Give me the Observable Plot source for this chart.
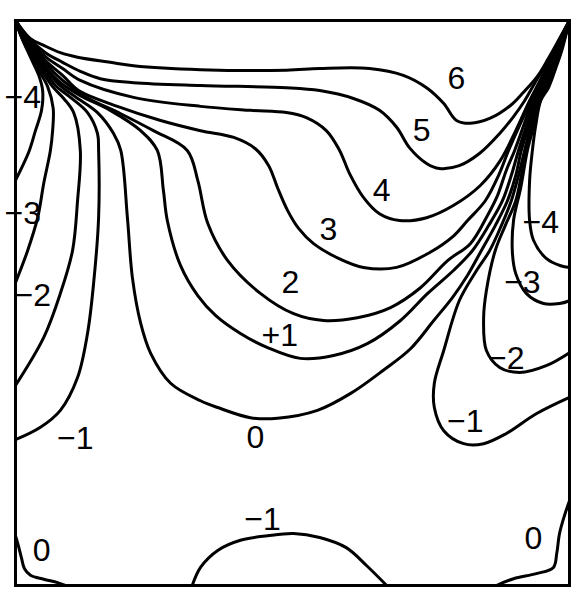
<!DOCTYPE html>
<html><head><meta charset="utf-8">
<script src="https://cdn.jsdelivr.net/npm/d3@7"></script>
<script src="https://cdn.jsdelivr.net/npm/@observablehq/plot@0.6"></script>
<style>body{margin:0;background:#fff}</style>
</head><body><div id="chart"></div>
<script>
// Contour lines, coordinates in % of cavity width (x) and height (y)
const lev6 = [[0,100],[2.7,96.8],[5.1,95.6],[8.1,94.3],[11.2,93.5],[17.1,92.6],[21.3,92.0],[33.4,91.3],[48.9,91.2],[54.9,91.5],[63.9,91.5],[70.0,90.3],[74.2,88.1],[77.3,85.3],[79.6,82.3],[82.1,81.8],[85.7,82.7],[89.4,85.0],[91.7,87.3],[94.2,90.1],[96.2,93.3],[98.2,96.8],[100,100]];
const lev5 = [[0,100],[2.5,96.8],[5.4,94.3],[8.5,92.6],[11.7,91.0],[15.3,89.7],[21.3,89.0],[33.4,88.5],[48.9,88.1],[54.9,87.6],[61.0,86.2],[65.7,84.1],[68.8,81.1],[71.1,77.5],[74.2,74.7],[76.5,73.8],[80.1,74.3],[83.8,76.5],[87.4,80.0],[89.9,83.0],[91.9,85.8],[94.2,89.7],[96.4,93.1],[98.2,96.6],[100,100]];
const lev4 = [[0,100],[2.3,96.8],[5.4,93.6],[8.5,91.5],[11.7,89.4],[21.3,86.4],[33.4,84.8],[42.4,84.1],[48.9,83.7],[52.5,82.8],[56.1,80.5],[58.5,77.0],[60.3,72.9],[62.8,68.7],[65.7,65.8],[69.3,64.6],[74.2,65.1],[79.1,67.3],[83.9,70.8],[87.5,75.2],[90.3,80.5],[92.8,85.8],[94.8,89.6],[96.4,92.9],[98.2,96.5],[100,100]];
const lev3 = [[0,100],[2.2,96.8],[5.4,92.9],[8.5,90.3],[11.4,87.6],[18.4,84.8],[26.2,82.3],[33.4,80.5],[39.4,79.3],[43.3,77.3],[45.7,74.3],[47.3,70.4],[49.1,66.4],[51.1,63.2],[53.8,60.5],[57.9,58.1],[62.8,56.3],[68.8,56.3],[74.7,58.9],[79.1,61.9],[81.6,64.6],[84.8,68.1],[87.2,72.6],[89.0,77.0],[91.2,81.9],[93.1,85.8],[94.9,89.4],[96.6,92.7],[98.2,96.3],[100,100]];
const lev2 = [[0,100],[2.2,96.6],[5.4,92.4],[8.5,89.4],[12.6,86.5],[19.0,83.5],[24.9,80.5],[31.0,77.0],[32.9,71.7],[34.7,64.1],[38.3,57.5],[44.2,51.7],[50.2,48.1],[55.6,46.9],[61.7,47.4],[67.7,49.2],[73.1,52.7],[78.0,57.5],[82.1,60.5],[85.2,65.5],[87.0,69.0],[88.6,73.5],[90.1,77.0],[91.9,81.9],[93.3,85.8],[95.1,89.2],[96.8,92.6],[98.4,96.1],[100,100]];
const lev1 = [[0,100],[2.0,96.6],[5.2,92.0],[8.1,89.0],[11.7,86.7],[17.1,84.1],[22.6,80.5],[25.6,77.0],[26.7,69.9],[27.4,64.6],[29.8,56.6],[32.9,51.3],[36.1,47.8],[40.6,44.6],[45.5,42.1],[51.4,40.2],[57.4,40.7],[63.5,42.8],[69.5,46.9],[74.4,51.7],[79.1,55.8],[82.5,59.3],[85.4,63.7],[87.9,68.1],[89.5,72.6],[90.8,77.0],[92.4,81.9],[93.7,85.8],[95.3,89.0],[96.8,92.4],[98.4,95.9],[100,100]];
const lev0 = [[0,100],[1.8,96.6],[5.1,91.9],[7.8,88.7],[10.8,86.5],[14.8,83.7],[17.7,80.0],[19.0,77.0],[20.2,65.1],[21.1,54.5],[22.6,46.4],[24.4,41.1],[28.0,35.8],[33.4,32.7],[36.5,31.5],[42.4,29.7],[47.3,29.6],[54.5,31.0],[60.5,34.0],[66.4,38.1],[71.3,41.9],[75.5,46.9],[78.9,51.0],[81.6,54.9],[84.1,59.3],[86.6,63.7],[88.8,68.1],[90.3,72.6],[91.3,77.0],[92.8,81.9],[93.9,85.8],[95.5,88.8],[96.9,92.2],[98.4,95.8],[100,100]];
const levM1Left = [[0,100],[1.6,96.6],[4.9,91.7],[7.2,88.5],[9.9,86.4],[13.0,83.7],[14.8,80.0],[15.0,77.0],[15.0,65.1],[14.1,53.5],[13.0,44.6],[11.2,36.8],[8.1,31.0],[4.5,28.0],[0,25.8]];
const levM2Left = [[0,100],[1.4,96.6],[4.5,91.5],[6.7,88.3],[8.7,86.2],[10.5,83.7],[11.7,77.0],[11.2,68.1],[10.3,59.3],[8.1,51.7],[5.1,43.9],[0,35.4]];
const levM3Left = [[0,100],[1.3,96.6],[4.0,91.5],[5.8,88.3],[6.8,84.5],[6.7,80.5],[6.3,77.0],[5.1,71.2],[4.0,65.1],[2.2,59.3],[0,53.6]];
const levM4Left = [[0,100],[1.1,97.0],[2.7,93.5],[4.2,90.3],[4.9,87.6],[4.7,84.1],[3.6,80.5],[2.5,77.0],[1.3,74.3],[0,71.7]];
const levM1Right = [[100,100],[98.4,95.6],[96.9,92.0],[95.7,88.7],[94.0,85.8],[93.1,81.9],[91.9,77.0],[90.8,72.6],[89.5,68.1],[87.7,63.7],[85.6,59.3],[83.0,55.4],[80.1,50.4],[77.3,41.6],[75.6,35.8],[75.6,31.5],[77.3,27.4],[80.9,25.1],[84.5,25.1],[88.6,26.9],[94.0,30.4],[100,33.3]];
const levM2Right = [[100,100],[98.6,95.4],[97.1,91.9],[95.8,88.5],[94.2,85.8],[93.5,81.9],[92.2,77.0],[91.3,72.6],[90.3,68.1],[88.4,63.7],[86.6,59.3],[85.0,52.2],[84.5,47.4],[85.0,41.6],[87.4,38.6],[91.0,37.7],[95.8,38.9],[100,41.2]];
const levM3Right = [[100,100],[98.6,95.2],[97.3,91.7],[96.0,88.3],[94.6,85.8],[93.7,81.9],[92.4,77.0],[91.2,70.4],[89.9,64.6],[89.7,58.8],[90.3,55.2],[92.2,51.7],[95.3,49.9],[98.2,49.9],[100,50.4]];
const levM4Right = [[100,100],[98.7,95.0],[97.5,91.5],[96.2,88.1],[94.8,85.8],[93.9,81.4],[93.3,77.0],[92.8,71.7],[92.8,64.6],[93.5,61.1],[95.8,57.9],[98.4,56.6],[100,56.3]];
const levM1Bottom = [[31.9,0],[33.4,3.2],[36.5,6.2],[40.6,8.0],[45.5,8.8],[50.2,9.2],[54.9,8.5],[59.7,6.7],[63.4,3.5],[67.0,0]];
const lev0BottomLeft = [[0,8.8],[0.5,7.1],[1.1,4.8],[1.6,3.0],[2.7,1.8],[5.1,1.1],[7.6,0.5],[9.0,0]];
const lev0BottomRight = [[86.8,0],[89.9,1.2],[94.0,2.1],[97.1,3.2],[97.7,5.7],[98.2,9.2],[99.1,12.4],[100,15.0]];

const contourIds = ["6","5","4","3","2","1","0","-1L","-2L","-3L","-4L","-1R","-2R","-3R","-4R","-1B","0BL","0BR"];
const contourPts = [lev6,lev5,lev4,lev3,lev2,lev1,lev0,levM1Left,levM2Left,levM3Left,levM4Left,levM1Right,levM2Right,levM3Right,levM4Right,levM1Bottom,lev0BottomLeft,lev0BottomRight];

// Contour labels
const labelText = ["6","5","4","3","2","+1","0","−1","−1","0","0","−1","−2","−3","−4","−4","−3","−2"];
const labelX = [79.6,73.3,66.1,56.5,49.6,47.7,43.3,10.8,44.6,4.7,93.5,81.2,88.6,91.5,94.8,1.3,1.3,3.1];
const labelY = [89.7,80.5,69.9,63.0,53.5,44.2,26.2,26.0,11.7,6.2,8.3,29.0,40.2,53.5,64.2,86.4,65.8,51.2];

const rows = contourIds.flatMap((id, i) => contourPts[i].map(([x, y]) => ({id, x, y})));
const labels = labelText.map((t, i) => ({t, x: labelX[i], y: labelY[i]}));

const chart = Plot.plot({
  width: 586, height: 600,
  marginLeft: 15, marginRight: 17, marginTop: 20, marginBottom: 15,
  x: {domain: [0, 100], axis: null},
  y: {domain: [0, 100], axis: null},
  style: {background: "#fff"},
  marks: [
    Plot.line(rows, {x: "x", y: "y", z: "id", stroke: "black", strokeWidth: 3, curve: "catmull-rom"}),
    Plot.frame({stroke: "black", strokeWidth: 3}),
    Plot.text(labels, {x: "x", y: "y", text: "t", fontSize: 32, fontFamily: "Liberation Sans", fill: "black", textAnchor: "middle", lineAnchor: "middle"})
  ]
});
document.getElementById("chart").appendChild(chart);
</script>
</body></html>
